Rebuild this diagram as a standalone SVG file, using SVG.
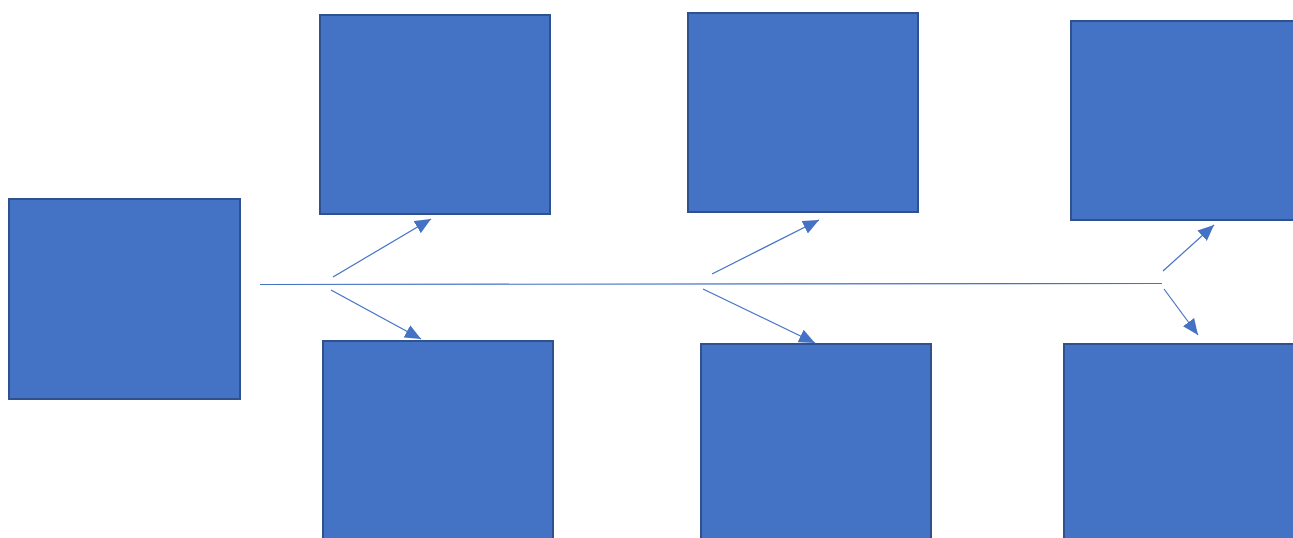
<svg xmlns="http://www.w3.org/2000/svg" width="1293" height="538" viewBox="0 0 1293 538">
<style>
.box{fill:#4472C4;stroke:#2F528F;stroke-width:2}
.ln{stroke:#4472C4;stroke-width:1.2;fill:none}
.ar{stroke:#4472C4;stroke-width:1.2;fill:none;marker-end:url(#ah)}
</style>
<defs>
<marker id="ah" markerUnits="userSpaceOnUse" markerWidth="16" markerHeight="14" viewBox="0 0 16 14" refX="16" refY="7" orient="auto">
<path d="M0,0 L16,7 L0,14 Z" fill="#4472C4"/>
</marker>
</defs>
<rect width="1293" height="538" fill="#fff"/>
<g id="head"><rect class="box" x="9" y="199" width="231" height="200"/></g>
<g id="top1"><rect class="box" x="320" y="15" width="230" height="199"/></g>
<g id="top2"><rect class="box" x="688" y="13" width="230" height="199"/></g>
<g id="top3"><rect class="box" x="1071" y="21" width="240" height="199"/></g>
<g id="bot1"><rect class="box" x="323" y="341" width="230" height="210"/></g>
<g id="bot2"><rect class="box" x="701" y="344" width="230" height="210"/></g>
<g id="bot3"><rect class="box" x="1064" y="344" width="240" height="210"/></g>
<g id="connectors">
<line class="ln" x1="260" y1="284.5" x2="1162" y2="283.5"/>
<line class="ar" x1="333" y1="277" x2="431" y2="219"/>
<line class="ar" x1="331" y1="290" x2="421" y2="339"/>
<line class="ar" x1="712" y1="274" x2="819" y2="220"/>
<line class="ar" x1="703" y1="289" x2="815" y2="343"/>
<line class="ar" x1="1163" y1="271" x2="1214" y2="225"/>
<line class="ar" x1="1164" y1="289" x2="1198" y2="335"/>
</g>
</svg>
